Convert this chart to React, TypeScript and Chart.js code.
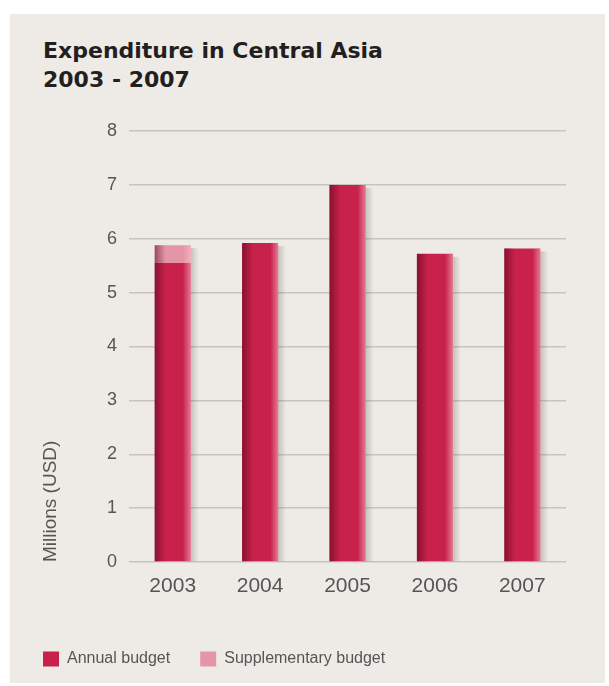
import React, { useEffect, useRef } from 'react';
import { Chart, registerables } from 'chart.js';

Chart.register(...registerables);

const categories = ['2003', '2004', '2005', '2006', '2007'];
const annualBudget = [5.55, 5.92, 7.0, 5.72, 5.82];
const supplementaryBudget = [0.33, 0, 0, 0, 0];
const seriesNames = ['Annual budget', 'Supplementary budget'];
const titleLines = ['Expenditure in Central Asia', '2003 - 2007'];
const yAxisTitle = 'Millions (USD)';
const yMin = 0;
const yMax = 8;
const yStep = 1;

const barShading = {
  id: 'barShading',
  beforeDatasetsDraw(chart: any) {
    const ctx = chart.ctx;
    const metas = chart.getSortedVisibleDatasetMetas();
    const n = chart.data.labels.length;
    for (let i = 0; i < n; i++) {
      let top = Infinity;
      let x = 0, w = 0, base = 0;
      metas.forEach((m: any) => {
        const el = m.data[i];
        if (!el) return;
        const p = el.getProps(['x', 'y', 'base', 'width'], true);
        if (Math.abs(p.base - p.y) > 0.5) {
          top = Math.min(top, p.y);
          x = p.x; w = p.width; base = Math.max(base, p.base);
        }
      });
      if (!isFinite(top)) continue;
      const r = x + w / 2;
      const g = ctx.createLinearGradient(r, 0, r + 8, 0);
      g.addColorStop(0, 'rgba(90,80,70,0.28)');
      g.addColorStop(1, 'rgba(90,80,70,0)');
      ctx.save();
      ctx.fillStyle = g;
      ctx.fillRect(r, top + 3, 8, base - top - 3);
      ctx.restore();
    }
  },
  afterDatasetsDraw(chart: any) {
    const ctx = chart.ctx;
    const metas = chart.getSortedVisibleDatasetMetas();
    metas.forEach((m: any) => {
      m.data.forEach((el: any) => {
        const p = el.getProps(['x', 'y', 'base', 'width'], true);
        const h = p.base - p.y;
        if (Math.abs(h) < 0.5) return;
        const l = p.x - p.width / 2;
        const r = p.x + p.width / 2;
        ctx.save();
        const gl = ctx.createLinearGradient(l, 0, l + p.width * 0.3, 0);
        gl.addColorStop(0, 'rgba(70,0,20,0.5)');
        gl.addColorStop(1, 'rgba(70,0,20,0)');
        ctx.fillStyle = gl;
        ctx.fillRect(l, p.y, p.width * 0.3, h);
        const gr = ctx.createLinearGradient(r - p.width * 0.22, 0, r, 0);
        gr.addColorStop(0, 'rgba(255,190,210,0)');
        gr.addColorStop(1, 'rgba(255,190,210,0.55)');
        ctx.fillStyle = gr;
        ctx.fillRect(r - p.width * 0.22, p.y, p.width * 0.22, h);
        ctx.restore();
      });
    });
  },
};

export default function App() {
  const canvasRef = useRef<HTMLCanvasElement | null>(null);

  useEffect(() => {
    if (!canvasRef.current) return;
    const chart = new Chart(canvasRef.current, {
      type: 'bar',
      data: {
        labels: categories,
        datasets: [
          {
            label: seriesNames[0],
            data: annualBudget,
            backgroundColor: '#c8214b',
            borderWidth: 0,
            categoryPercentage: 1,
            barPercentage: 0.412,
          },
          {
            label: seriesNames[1],
            data: supplementaryBudget,
            backgroundColor: '#e596a6',
            borderWidth: 0,
            categoryPercentage: 1,
            barPercentage: 0.412,
          },
        ],
      },
      options: {
        responsive: false,
        animation: false,
        devicePixelRatio: 1,
        layout: { padding: { left: 13, right: 43, top: 131, bottom: 9 } },
        plugins: {
          title: { display: false },
          tooltip: { enabled: false },
          legend: {
            display: true,
            position: 'bottom',
            align: 'start',
            labels: {
              boxWidth: 16,
              boxHeight: 15,
              padding: 30,
              color: '#555555',
              font: { family: '"Liberation Sans", Arial, sans-serif', size: 16 },
            },
          },
        },
        scales: {
          x: {
            stacked: true,
            grid: { display: false, drawTicks: false },
            border: { display: false },
            ticks: {
              padding: 12,
              color: '#555555',
              font: { family: '"Liberation Sans", Arial, sans-serif', size: 21 },
            },
            afterFit: (scale: any) => { scale.height = 59; },
          },
          y: {
            stacked: true,
            min: yMin,
            max: yMax,
            grid: { color: '#c8c3bd', lineWidth: 1.5, drawTicks: false },
            border: { display: false },
            ticks: {
              stepSize: yStep,
              padding: 12,
              color: '#555555',
              font: { family: '"Liberation Sans", Arial, sans-serif', size: 18 },
            },
            title: {
              display: true,
              text: yAxisTitle,
              align: 'start',
              color: '#555555',
              padding: { top: 26, bottom: 0 },
              font: { family: '"Liberation Sans", Arial, sans-serif', size: 19 },
            },
            afterFit: (scale: any) => { scale.width = 116; },
          },
        },
      },
      plugins: [barShading],
    } as any);
    return () => chart.destroy();
  }, []);

  return (
    <div style={{ position: 'absolute', left: 0, top: 0, width: 609, height: 686, background: '#ffffff', overflow: 'hidden' }}>
      <div style={{ position: 'absolute', left: 10, top: 14, width: 595, height: 669, background: '#eeebe7' }} />
      <div
        style={{
          position: 'absolute',
          left: 43,
          top: 36,
          fontFamily: '"DejaVu Sans", Verdana, sans-serif',
          fontWeight: 'bold',
          fontSize: 22,
          lineHeight: '29px',
          color: '#231f20',
          whiteSpace: 'nowrap',
        }}
      >
        <div>{titleLines[0]}</div>
        <div>{titleLines[1]}</div>
      </div>
      <canvas ref={canvasRef} width={609} height={686} style={{ position: 'absolute', left: 0, top: 0 }} />
    </div>
  );
}
